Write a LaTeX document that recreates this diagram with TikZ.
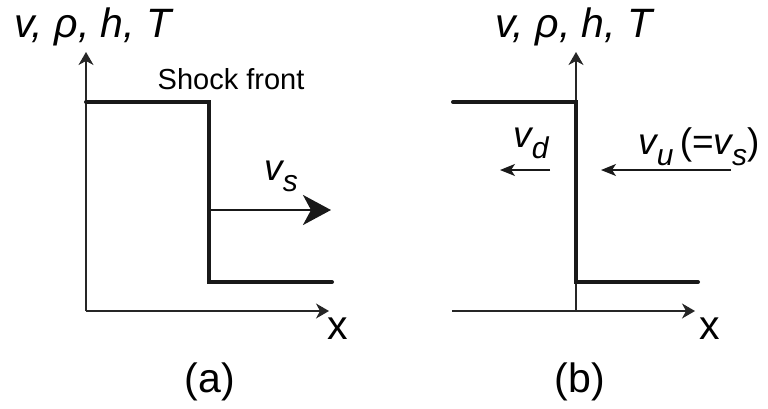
\documentclass[tikz,border=0pt]{standalone}
\usepackage{fontspec}
\setmainfont{Liberation Sans}
\usetikzlibrary{positioning,arrows.meta}
\newcommand{\subi}[1]{\raisebox{-0.3em}{\fontsize{30}{30}\selectfont\itshape #1}}
\tikzset{
  eje/.style={-{Stealth[length=13pt,width=15pt,inset=4pt]},line width=1.3pt,color=black!85},
  perfil/.style={line width=4pt,line cap=round,line join=miter,color=black!90},
  flecha/.style={-{Stealth[length=28pt,width=30pt,inset=8pt]},line width=2.6pt,color=black!90},
  flechita/.style={-{Stealth[length=15pt,width=12pt,inset=4pt]},line width=1.3pt,color=black!90},
  etiqueta/.style={inner sep=0pt,font=\fontsize{37}{40}\selectfont\itshape},
}
\begin{document}
\begin{tikzpicture}[x=1pt,y=-1pt,
  titulo/.style={inner sep=0pt,font=\fontsize{41}{45}\selectfont\itshape},
  texto/.style={inner sep=0pt,font=\fontsize{29}{34}\selectfont},
  rotulo/.style={inner sep=0pt,font=\fontsize{41}{45}\selectfont}]
  \useasboundingbox (0,0) rectangle (768,408);
  % (a) frente de choque en movimiento
  \coordinate (oa) at (86,311);
  \coordinate (ya) at (86,52);
  \coordinate (xa) at (329,311);
  \coordinate (a1) at (86,102);
  \coordinate (a2) at (209,102);
  \coordinate (a3) at (209,282);
  \coordinate (a4) at (332,282);
  \coordinate (sa) at (209,210);
  \coordinate (sb) at (331,210);
  \draw[eje] (oa) -- (ya);
  \draw[eje] (oa) -- (xa);
  \draw[perfil] (a1) -- (a2) -- (a3) -- (a4);
  \draw[flecha] (sa) -- (sb);
  \node[titulo] (tita) at (93,27) {v, ρ, h, T};
  \node[texto] (frente) at (231,79) {Shock front};
  \node[etiqueta] (vs) at (281,176) {v\subi{s}};
  \node[rotulo] (xlaba) at (338,329) {x};
  \node[rotulo] (capa) at (210,382) {(a)};
  % (b) sistema del frente
  \coordinate (ob) at (576,311);
  \coordinate (yb) at (576,52);
  \coordinate (x0) at (452,311);
  \coordinate (xb) at (695,311);
  \coordinate (b1) at (453,102);
  \coordinate (b2) at (576,102);
  \coordinate (b3) at (576,282);
  \coordinate (b4) at (698,282);
  \coordinate (da) at (550,170);
  \coordinate (db) at (500,170);
  \coordinate (ua) at (731,170);
  \coordinate (ub) at (601,170);
  \draw[eje] (ob) -- (yb);
  \draw[eje] (x0) -- (xb);
  \draw[perfil] (b1) -- (b2) -- (b3) -- (b4);
  \draw[flechita] (da) -- (db);
  \draw[flechita] (ua) -- (ub);
  \node[titulo] (titb) at (574,27) {v, ρ, h, T};
  \node[etiqueta] (vd) at (531,143) {v\subi{d}};
  \node[etiqueta] (vu) at (699,147) {v\subi{u}\,\upshape(=\itshape v\subi{s}\upshape)};
  \node[rotulo] (xlabb) at (710,329) {x};
  \node[rotulo] (capb) at (580,382) {(b)};
\end{tikzpicture}
\end{document}
